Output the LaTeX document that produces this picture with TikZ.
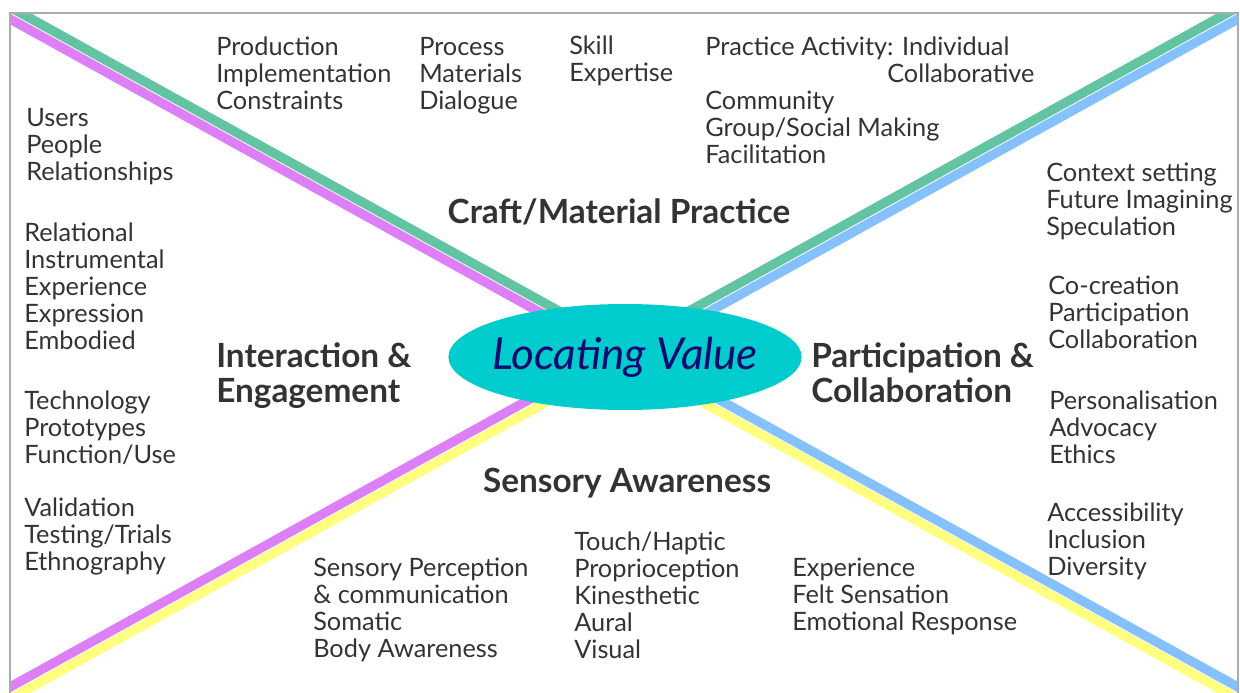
\documentclass[tikz,border=0pt]{standalone}
\usepackage{fontspec}
\setmainfont{Lato}
\usepackage{xcolor}
\usepackage{tikz}
\usetikzlibrary{positioning, calc, shapes.geometric}
\definecolor{ink}{HTML}{333333}
\definecolor{frameGray}{HTML}{ABABAB}
\definecolor{craftGreen}{HTML}{62C4A2}
\definecolor{interPurple}{HTML}{DD80F8}
\definecolor{partBlue}{HTML}{85C1FF}
\definecolor{senseYellow}{HTML}{FFFF80}
\definecolor{hubCyan}{HTML}{00CBCD}
\definecolor{hubNavy}{HTML}{0D0A70}

\begin{document}
\begin{tikzpicture}[x=0.75pt, y=-0.75pt, every node/.style={align=left}]
    \tikzset{taglist/.style={anchor=north west,inner sep=0pt,text=ink,font=\fontsize{19}{20.25}\selectfont},
      heading/.style={inner sep=0pt,text=ink,font=\fontsize{25}{26.25}\selectfont\bfseries},
      band/.style={line width=7pt}}
    \useasboundingbox (0,0) rectangle (1240,693);
    % crossing point and frame corners
    \coordinate (hub) at (624,353);
    \coordinate (tl) at (10,13);
    \coordinate (tr) at (1238,13);
    \coordinate (bl) at (10,693);
    \coordinate (br) at (1238,693);
    \coordinate (tlx) at ($(hub)!1.1!(tl)$);
    \coordinate (trx) at ($(hub)!1.1!(tr)$);
    \coordinate (blx) at ($(hub)!1.1!(bl)$);
    \coordinate (brx) at ($(hub)!1.1!(br)$);
    % two-colour diagonals, one colour per quadrant
    \begin{scope}
      \clip (10,13) rectangle (1238,720);
      \draw[band,craftGreen] ($(hub)!3.9pt!-90:(tl)$) -- ($(tlx)!3.9pt!90:(hub)$);
      \draw[band,interPurple] ($(hub)!3.9pt!90:(tl)$) -- ($(tlx)!3.9pt!-90:(hub)$);
      \draw[band,partBlue] ($(hub)!3.9pt!-90:(tr)$) -- ($(trx)!3.9pt!90:(hub)$);
      \draw[band,craftGreen] ($(hub)!3.9pt!90:(tr)$) -- ($(trx)!3.9pt!-90:(hub)$);
      \draw[band,interPurple] ($(hub)!3.9pt!-90:(bl)$) -- ($(blx)!3.9pt!90:(hub)$);
      \draw[band,senseYellow] ($(hub)!3.9pt!90:(bl)$) -- ($(blx)!3.9pt!-90:(hub)$);
      \draw[band,senseYellow] ($(hub)!3.9pt!-90:(br)$) -- ($(brx)!3.9pt!90:(hub)$);
      \draw[band,partBlue] ($(hub)!3.9pt!90:(br)$) -- ($(brx)!3.9pt!-90:(hub)$);
    \end{scope}
    \draw[frameGray,line width=1.5pt] (10,720) -- (tl) -- (tr) -- (1238,720);
    \node[ellipse,fill=hubCyan,minimum width=264pt,minimum height=79.5pt,inner xsep=-6pt,inner ysep=0pt,text=hubNavy,font=\fontsize{33}{36}\selectfont\itshape] (value) at (625,357) {Locating Value};

    % craft / material practice
    \node[heading] (craft) at (619,212) {Craft/Material Practice};
    \node[taglist] (prod) at (216,37) {Production\\Implementation\\Constraints};
    \node[taglist] (proc) at (419,37) {Process\\Materials\\Dialogue};
    \node[taglist] (skill) at (569,36) {Skill\\Expertise};
    \node[taglist] (activity) at (705,37) {Practice Activity: Individual\\\hspace*{136.5pt}Collaborative};
    \node[taglist] (comm) at (705,91) {Community\\Group/Social Making\\Facilitation};

    % interaction & engagement
    \node[heading,anchor=north west] (inter) at (216,342) {Interaction \&\\Engagement};
    \node[taglist] (users) at (26,108) {Users\\People\\Relationships};
    \node[taglist] (relational) at (24,223) {Relational\\Instrumental\\Experience\\Expression\\Embodied};
    \node[taglist] (tech) at (24,391) {Technology\\Prototypes\\Function/Use};
    \node[taglist] (valid) at (24,498) {Validation\\Testing/Trials\\Ethnography};

    % participation & collaboration
    \node[heading,anchor=north west] (part) at (811,342) {Participation \&\\Collaboration};
    \node[taglist] (context) at (1046,163) {Context setting\\Future Imagining\\Speculation};
    \node[taglist] (cocreate) at (1048,276) {Co-creation\\Participation\\Collaboration};
    \node[taglist] (personal) at (1049,391) {Personalisation\\Advocacy\\Ethics};
    \node[taglist] (access) at (1047,503) {Accessibility\\Inclusion\\Diversity};

    % sensory awareness
    \node[heading] (sense) at (627,483) {Sensory Awareness};
    \node[taglist] (percept) at (313,558) {Sensory Perception\\\& communication\\Somatic\\Body Awareness};
    \node[taglist] (touch) at (574,532) {Touch/Haptic\\Proprioception\\Kinesthetic\\Aural\\Visual};
    \node[taglist] (felt) at (792,558) {Experience\\Felt Sensation\\Emotional Response};
  \end{tikzpicture}
\end{document}
